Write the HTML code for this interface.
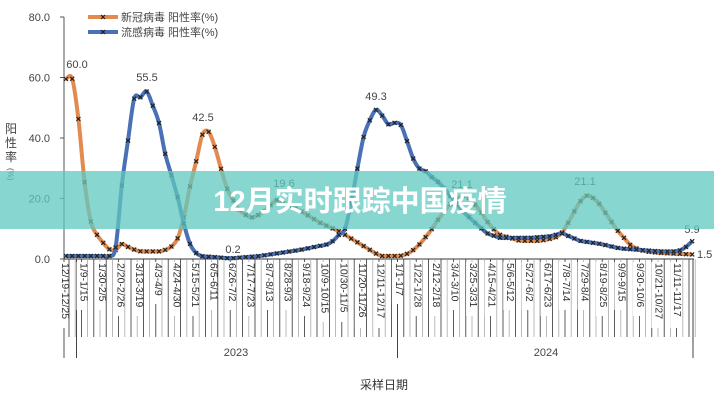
<!DOCTYPE html>
<html><head><meta charset="utf-8"><style>
body{margin:0;background:#fff;}
svg{display:block;font-family:"Liberation Sans","Noto Sans CJK SC",sans-serif;}
</style></head><body>
<svg id="s" width="714" height="400" viewBox="0 0 714 400"></svg>
<script>
const s=document.getElementById('s');
let h='';
const Y=v=>259-v*3.025, X=i=>66+6.2*i, N=102;
h+='<line x1="64" y1="17" x2="64" y2="358" stroke="#555" stroke-width="1"/>';
[0,20,40,60,80].forEach(v=>{h+=`<line x1="60" y1="${Y(v)}" x2="64" y2="${Y(v)}" stroke="#555"/><text x="50" y="${Y(v)+4}" font-size="11" fill="#444" text-anchor="end">${v.toFixed(1)}</text>`;});
h+='<line x1="64" y1="259" x2="694" y2="259" stroke="#333"/>';
h+='<text font-size="12" fill="#444" text-anchor="middle"><tspan x="11" y="133">阳</tspan><tspan x="11" y="147">性</tspan><tspan x="11" y="161">率</tspan></text><text x="8" y="168" font-size="8" fill="#444" transform="rotate(90 8 168)">(%)</text>';
for(let i=0;i<N;i++){const x=X(i)+3;h+=`<line x1="${x}" y1="259" x2="${x}" y2="337" stroke="${i%2?'#aaa':'#333'}" stroke-width="0.8"/>`;}
[76.5,397.5,693].forEach(x=>h+=`<line x1="${x}" y1="259" x2="${x}" y2="358" stroke="#444"/>`);
const labs="12/19-12/25,1/9-1/15,1/30-2/5,2/20-2/26,3/13-3/19,4/3-4/9,4/24-4/30,5/15-5/21,6/5-6/11,6/26-7/2,7/17-7/23,8/7-8/13,8/28-9/3,9/18-9/24,10/9-10/15,10/30-11/5,11/20-11/26,12/11-12/17,1/1-1/7,1/22-1/28,2/12-2/18,3/4-3/10,3/25-3/31,4/15-4/21,5/6-5/12,5/27-6/2,6/17-6/23,7/8-7/14,7/29-8/4,8/19-8/25,9/9-9/15,9/30-10/6,10/21-10/27,11/11-11/17".split(',');
labs.forEach((l,k)=>{const x=66+k*18.55-4;h+=`<rect x="${x-4}" y="262" width="10" height="${l.length*6}" fill="#fff"/><text x="${x}" y="263" font-size="10.5" fill="#333" transform="rotate(90 ${x} 263)">${l}</text>`;});
h+='<text x="236" y="356" font-size="11" fill="#444" text-anchor="middle">2023</text><text x="546" y="356" font-size="11" fill="#444" text-anchor="middle">2024</text><text x="384" y="389" font-size="12" fill="#333" text-anchor="middle">采样日期</text>';
function interp(kp,x){for(let j=0;j<kp.length-1;j++){if(x<=kp[j+1][0]){const[a,va]=kp[j],[b,vb]=kp[j+1];return va+(vb-va)*(x-a)/(b-a);}}return kp[kp.length-1][1];}
const blue=[[66,1],[110,1],[116,4],[122,25],[129,41.5],[134,53],[141,53.5],[147,55.5],[153,50.5],[160,44],[165,35],[172,27],[178,20],[185,10],[192,3],[200,1],[230,0.2],[260,1],[300,3],[330,5],[345,10],[352,20],[358,31],[364,41],[370,46],[376,49.3],[382,47.5],[388,44.5],[394,45],[400,45],[406,40],[412,34],[418,30],[424,29.5],[432,27],[440,25],[450,21],[462,16],[475,12],[487,8.5],[500,7],[530,7],[550,7.5],[562,8.5],[580,6],[600,5],[620,3.5],[640,3],[660,2.5],[678,2.5],[686,4],[692,5.9]];
const cov=[[66,59.5],[72,60],[79,45],[85,24],[91,12],[97,8],[104,5],[110,3],[116,3],[122,5],[128,4],[135,3],[141,2.5],[160,2.5],[170,3.5],[178,7],[184,14],[190,24],[196,32],[202,41],[208,42.5],[214,38],[220,31],[226,24],[232,20],[240,16],[250,13.5],[262,15],[276,19.6],[300,16],[320,12],[340,9],[355,6],[370,3],[380,1],[400,1],[410,2],[420,5],[430,9],[440,14],[450,18],[462,21.1],[470,20],[480,16],[490,11],[500,8],[510,7],[520,6],[540,6],[555,7],[563,9],[570,13],[578,18],[585,21.1],[592,20.5],[600,18],[608,14],[616,10],[624,7],[632,4],[645,2.5],[660,2],[692,1.5]];
function series(kp,col){const p=[];for(let i=0;i<N;i++){const x=X(i);p.push([x,Y(interp(kp,x))]);}
 let d=`M${p[0][0]},${p[0][1]}`;for(let i=0;i<p.length-1;i++){const p0=p[i-1]||p[i],p1=p[i],p2=p[i+1],p3=p[i+2]||p2;
 d+=`C${p1[0]+(p2[0]-p0[0])/6},${p1[1]+(p2[1]-p0[1])/6} ${p2[0]-(p3[0]-p1[0])/6},${p2[1]-(p3[1]-p1[1])/6} ${p2[0]},${p2[1]}`;}
 let o=`<path d="${d}" fill="none" stroke="${col}" stroke-width="4" stroke-linejoin="round"/>`;
 p.forEach(q=>{o+=`<path d="M${q[0]-2},${q[1]-2}L${q[0]+2},${q[1]+2}M${q[0]-2},${q[1]+2}L${q[0]+2},${q[1]-2}" stroke="#222" stroke-width="1.2"/>`;});return o;}
h+=series(cov,'#e38a4f');h+=series(blue,'#4a70b5');
const lab=(x,y,t)=>h+=`<text x="${x}" y="${y}" font-size="11" fill="#444" text-anchor="middle">${t}</text>`;
lab(77,68,'60.0');lab(147,81,'55.5');lab(203,121,'42.5');lab(233,253,'0.2');lab(376,100,'49.3');lab(284,187,'19.6');lab(462,188,'21.1');lab(585,185,'21.1');lab(692,233,'5.9');
h+='<text x="697" y="258" font-size="11" fill="#444">1.5</text>';
h+='<line x1="88" y1="17" x2="118" y2="17" stroke="#e38a4f" stroke-width="4"/><line x1="88" y1="32" x2="118" y2="32" stroke="#4a70b5" stroke-width="4"/>';
[17,32].forEach(y=>h+=`<path d="M101,${y-2}L105,${y+2}M101,${y+2}L105,${y-2}" stroke="#222" stroke-width="1.2"/>`);
h+='<text x="121" y="21" font-size="11" fill="#444">新冠病毒 阳性率(%)</text><text x="121" y="36" font-size="11" fill="#444">流感病毒 阳性率(%)</text>';
h+='<rect x="0" y="171" width="714" height="58" fill="rgb(96,200,192)" fill-opacity="0.75"/>';
h+='<text x="360" y="211" font-size="29" font-weight="bold" fill="#fff" text-anchor="middle">12月实时跟踪中国疫情</text>';
s.innerHTML=h;
</script>
</body></html>
